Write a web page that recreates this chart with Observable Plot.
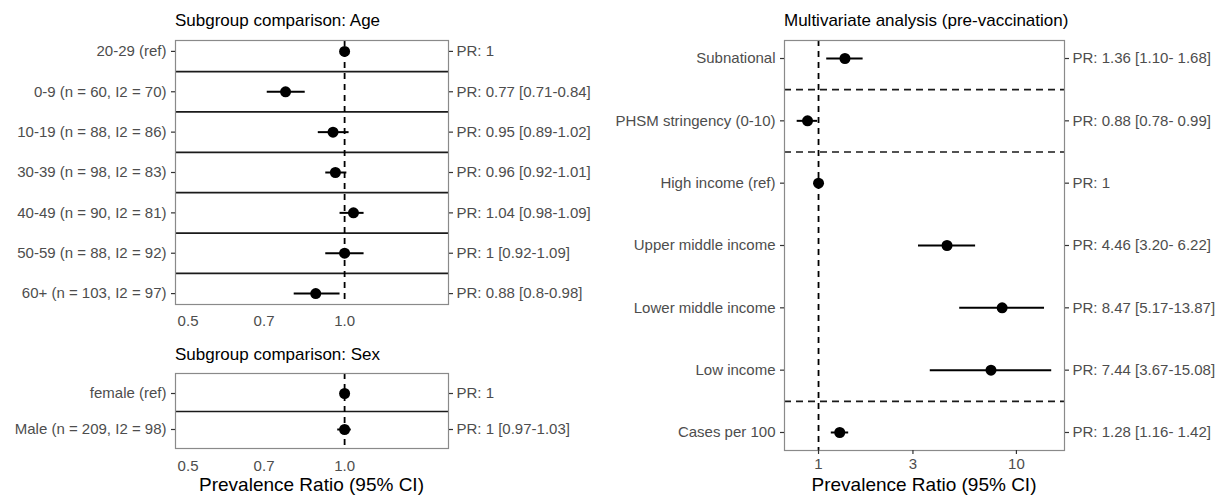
<!DOCTYPE html>
<html><head><meta charset="utf-8">
<script src="https://cdn.jsdelivr.net/npm/d3@7"></script>
<script src="https://cdn.jsdelivr.net/npm/@observablehq/plot@0.6"></script>
<style>
body{margin:0;background:#fff;font-family:"Liberation Sans",Arial,Helvetica,sans-serif;}
#root{position:relative;width:1217px;height:495px;overflow:hidden;background:#fff}
.panel{position:absolute}
.title{position:absolute;font-size:17px;line-height:20px;color:#000;white-space:nowrap}
.axtitle{position:absolute;font-size:19px;line-height:22px;color:#000;white-space:nowrap;transform:translateX(-50%)}
</style></head><body><div id="root"></div>
<script>
// ---- Data ----
const refValue = 1;

const ageCategories = ["20-29 (ref)", "0-9 (n = 60, I2 = 70)", "10-19 (n = 88, I2 = 86)", "30-39 (n = 98, I2 = 83)", "40-49 (n = 90, I2 = 81)", "50-59 (n = 88, I2 = 92)", "60+ (n = 103, I2 = 97)"];
const agePR   = [1, 0.77, 0.95, 0.96, 1.04, 1, 0.88];
const ageLow  = [null, 0.71, 0.89, 0.92, 0.98, 0.92, 0.8];
const ageHigh = [null, 0.84, 1.02, 1.01, 1.09, 1.09, 0.98];
const ageLabels = ["PR: 1", "PR: 0.77 [0.71-0.84]", "PR: 0.95 [0.89-1.02]", "PR: 0.96 [0.92-1.01]", "PR: 1.04 [0.98-1.09]", "PR: 1 [0.92-1.09]", "PR: 0.88 [0.8-0.98]"];

const sexCategories = ["female (ref)", "Male (n = 209, I2 = 98)"];
const sexPR   = [1, 1];
const sexLow  = [null, 0.97];
const sexHigh = [null, 1.03];
const sexLabels = ["PR: 1", "PR: 1 [0.97-1.03]"];

const subgroupTicks = [0.5, 0.7, 1.0];
const subgroupDomain = [0.473, 1.584];

const mvCategories = ["Subnational", "PHSM stringency (0-10)", "High income (ref)", "Upper middle income", "Lower middle income", "Low income", "Cases per 100"];
const mvGroups = ["Subnational", "PHSM", "Income", "Income", "Income", "Income", "Cases"];
const mvPR   = [1.36, 0.88, 1, 4.46, 8.47, 7.44, 1.28];
const mvLow  = [1.10, 0.78, null, 3.20, 5.17, 3.67, 1.16];
const mvHigh = [1.68, 0.99, null, 6.22, 13.87, 15.08, 1.42];
const mvLabels = ["PR: 1.36 [1.10- 1.68]", "PR: 0.88 [0.78- 0.99]", "PR: 1", "PR: 4.46 [3.20- 6.22]", "PR: 8.47 [5.17-13.87]", "PR: 7.44 [3.67-15.08]", "PR: 1.28 [1.16- 1.42]"];
const mvTicks = [1, 3, 10];
const mvDomain = [0.673, 17.5];

// ---- Drawing ----
const root = document.getElementById("root");
function addText(cls, text, left, top) {
  const d = document.createElement("div");
  d.className = cls; d.textContent = text;
  d.style.left = left + "px"; d.style.top = top + "px";
  root.appendChild(d);
}

function forest(o) {
  const rows = o.cats.map((c, k) => ({i: k + 1, cat: c, pr: o.pr[k], lo: o.lo[k], hi: o.hi[k]}));
  const groups = o.groups || o.cats;
  const seps = [];
  for (let k = 1; k < groups.length; k++) if (groups[k] !== groups[k - 1]) seps.push(k + 0.5);
  const n = o.cats.length;
  const plot = Plot.plot({
    width: o.width, height: o.height,
    marginLeft: o.ml, marginRight: o.mr, marginTop: o.mt, marginBottom: o.mb,
    style: {fontFamily: '"Liberation Sans", Arial, Helvetica, sans-serif', fontSize: "15px", background: "transparent", overflow: "visible"},
    x: {type: "log", domain: o.xDomain},
    y: {domain: [1 - o.padTop, n + o.padBottom], reverse: true},
    marks: [
      Plot.ruleY(seps, {stroke: "#1a1a1a", strokeWidth: 1.7, strokeDasharray: o.sepDash}),
      Plot.ruleX([refValue], {stroke: "#000", strokeWidth: 1.8, strokeDasharray: "6,5"}),
      Plot.ruleY(rows.filter(d => d.lo != null), {y: "i", x1: "lo", x2: "hi", stroke: "#000", strokeWidth: 2}),
      Plot.dot(rows, {x: "pr", y: "i", r: 5.5, fill: "#000", stroke: "none"}),
      Plot.frame({stroke: "#8a8a8a", strokeWidth: 1.2}),
      Plot.axisY({anchor: "left", ticks: rows.map(d => d.i), tickFormat: i => o.cats[i - 1], tickSize: 4, tickPadding: 5, label: null, stroke: "#333", fill: "#4d4d4d", strokeWidth: 1.2}),
      Plot.axisY({anchor: "right", ticks: rows.map(d => d.i), tickFormat: i => o.labels[i - 1], tickSize: 4, tickPadding: 4, label: null, stroke: "#333", fill: "#4d4d4d", strokeWidth: 1.2}),
      Plot.axisX({anchor: "bottom", ticks: o.xTicks, tickFormat: o.xFormat, tickSize: o.xTickSize, tickPadding: o.xTickPadding, label: null, stroke: "#333", fill: "#4d4d4d", strokeWidth: 1.2})
    ]
  });
  const wrap = document.createElement("div");
  wrap.className = "panel";
  wrap.style.left = o.left + "px"; wrap.style.top = o.top + "px";
  wrap.appendChild(plot);
  root.appendChild(wrap);
}

forest({cats: ageCategories, pr: agePR, lo: ageLow, hi: ageHigh, labels: ageLabels,
  xDomain: subgroupDomain, xTicks: subgroupTicks, xFormat: d3.format(".1f"), xTickSize: 0, xTickPadding: 11,
  left: 0, top: 30, width: 620, height: 310, ml: 175, mr: 172, mt: 10, mb: 36, padTop: 0.27, padBottom: 0.27});

forest({cats: sexCategories, pr: sexPR, lo: sexLow, hi: sexHigh, labels: sexLabels,
  xDomain: subgroupDomain, xTicks: subgroupTicks, xFormat: d3.format(".1f"), xTickSize: 0, xTickPadding: 12,
  left: 0, top: 365, width: 620, height: 115, ml: 175, mr: 172, mt: 8, mb: 32, padTop: 0.556, padBottom: 0.528});

forest({cats: mvCategories, groups: mvGroups, pr: mvPR, lo: mvLow, hi: mvHigh, labels: mvLabels, sepDash: "7,5",
  xDomain: mvDomain, xTicks: mvTicks, xFormat: d3.format("d"), xTickSize: 4, xTickPadding: 4,
  left: 620, top: 30, width: 597, height: 450, ml: 164, mr: 153, mt: 10, mb: 30, padTop: 0.289, padBottom: 0.289});

addText("title", "Subgroup comparison: Age", 175, 11);
addText("title", "Subgroup comparison: Sex", 175, 345);
addText("title", "Multivariate analysis (pre-vaccination)", 784, 11);
addText("axtitle", "Prevalence Ratio (95% CI)", 311.5, 474);
addText("axtitle", "Prevalence Ratio (95% CI)", 924, 474);
</script></body></html>
